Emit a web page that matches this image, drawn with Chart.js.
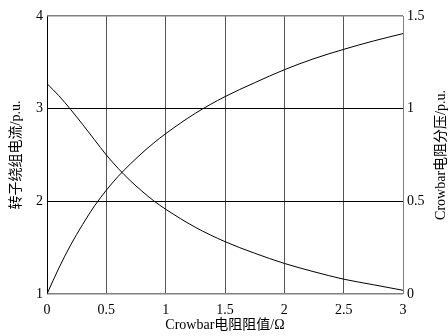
<!DOCTYPE html>
<html>
<head>
<meta charset="utf-8">
<script src="https://cdn.jsdelivr.net/npm/chart.js@4.4.1/dist/chart.umd.min.js"></script>
<style>
  html, body { margin: 0; padding: 0; background: #fff; }
  #wrap { width: 448px; height: 336px; }
</style>
</head>
<body>
<div id="wrap"><canvas id="chart" width="448" height="336"></canvas></div>
<script>
// Crowbar 电阻阻值 (Ω)
const resistance = [0, 0.1, 0.2, 0.3, 0.4, 0.5, 0.6, 0.7, 0.8, 0.9, 1, 1.25, 1.5, 1.75, 2, 2.25, 2.5, 2.75, 3];
// 转子绕组电流 (p.u.) - 左轴
const rotorCurrent = [3.27, 3.14, 2.99, 2.83, 2.665, 2.50, 2.355, 2.225, 2.11, 2.005, 1.915, 1.72, 1.565, 1.44, 1.33, 1.24, 1.16, 1.10, 1.04];
// Crowbar 电阻分压 (p.u.) - 右轴
const crowbarVoltage = [0, 0.14, 0.265, 0.375, 0.475, 0.56, 0.635, 0.70, 0.76, 0.815, 0.865, 0.975, 1.065, 1.14, 1.21, 1.27, 1.32, 1.365, 1.405];

// 刻度
const xTicks = [0, 0.5, 1, 1.5, 2, 2.5, 3];
const leftTicks = [1, 2, 3, 4];
const rightTicks = [0, 0.5, 1, 1.5];

const FONT = "'Liberation Serif', 'Noto Sans CJK SC', serif";

function setTicks(list) {
  return function(scale) {
    scale.ticks = list.map(v => ({ value: v }));
  };
}

function plainLabel(value) {
  return String(value);
}

// 右轴标题，从下往上读
const rightTitle = {
  id: 'rightTitle',
  afterDraw(chart) {
    const c = chart.ctx;
    c.save();
    c.font = '14px ' + FONT;
    c.fillStyle = '#000';
    c.textAlign = 'center';
    c.textBaseline = 'middle';
    c.translate(441, (chart.chartArea.top + chart.chartArea.bottom) / 2);
    c.rotate(-Math.PI / 2);
    c.fillText('Crowbar电阻分压/p.u.', 0, 0);
    c.restore();
  }
};

new Chart(document.getElementById('chart').getContext('2d'), {
  type: 'line',
  data: {
    datasets: [
      {
        label: '转子绕组电流',
        data: resistance.map((r, i) => ({ x: r, y: rotorCurrent[i] })),
        yAxisID: 'y',
        borderColor: '#000',
        borderWidth: 1,
        pointRadius: 0,
        cubicInterpolationMode: 'monotone'
      },
      {
        label: 'Crowbar电阻分压',
        data: resistance.map((r, i) => ({ x: r, y: crowbarVoltage[i] })),
        yAxisID: 'y1',
        borderColor: '#000',
        borderWidth: 1,
        pointRadius: 0,
        cubicInterpolationMode: 'monotone'
      }
    ]
  },
  options: {
    responsive: false,
    animation: false,
    devicePixelRatio: 1,
    layout: { padding: { top: 16, left: 0, right: 0, bottom: 0 } },
    plugins: {
      legend: { display: false },
      tooltip: { enabled: false }
    },
    scales: {
      x: {
        type: 'linear',
        min: 0,
        max: 3,
        afterBuildTicks: setTicks(xTicks),
        afterFit: function(s) { s.height = 42; },
        border: { display: false },
        grid: {
          drawTicks: false,
          color: function(ctx) {
            const v = ctx.tick && ctx.tick.value;
            if (v === 0) return '#000';
            if (v === 3) return '#808080';
            return '#555';
          },
          lineWidth: 1
        },
        ticks: {
          padding: 8,
          color: '#000',
          font: { family: FONT, size: 14 },
          maxRotation: 0,
          callback: plainLabel
        },
        title: {
          display: true,
          text: 'Crowbar电阻阻值/Ω',
          color: '#000',
          font: { family: FONT, size: 14 },
          padding: { top: 0, bottom: 2 }
        }
      },
      y: {
        position: 'left',
        min: 1,
        max: 4,
        afterBuildTicks: setTicks(leftTicks),
        afterFit: function(s) { s.width = 47; },
        border: { display: false },
        grid: {
          drawTicks: false,
          color: function(ctx) {
            const v = ctx.tick && ctx.tick.value;
            return (v === 1 || v === 4) ? '#808080' : '#000';
          },
          lineWidth: function(ctx) {
            const v = ctx.tick && ctx.tick.value;
            return (v === 1 || v === 4) ? 1.5 : 1;
          }
        },
        ticks: {
          padding: 4,
          color: '#000',
          font: { family: FONT, size: 14 },
          callback: plainLabel
        },
        title: {
          display: true,
          text: '转子绕组电流/p.u.',
          color: '#000',
          font: { family: FONT, size: 14 },
          padding: { top: 8, bottom: 0 }
        }
      },
      y1: {
        position: 'right',
        min: 0,
        max: 1.5,
        afterBuildTicks: setTicks(rightTicks),
        afterFit: function(s) { s.width = 45; },
        border: { display: false },
        grid: { display: false, drawTicks: false },
        ticks: {
          padding: 4,
          color: '#000',
          font: { family: FONT, size: 14 },
          callback: plainLabel
        }
      }
    }
  },
  plugins: [rightTitle]
});
</script>
</body>
</html>
